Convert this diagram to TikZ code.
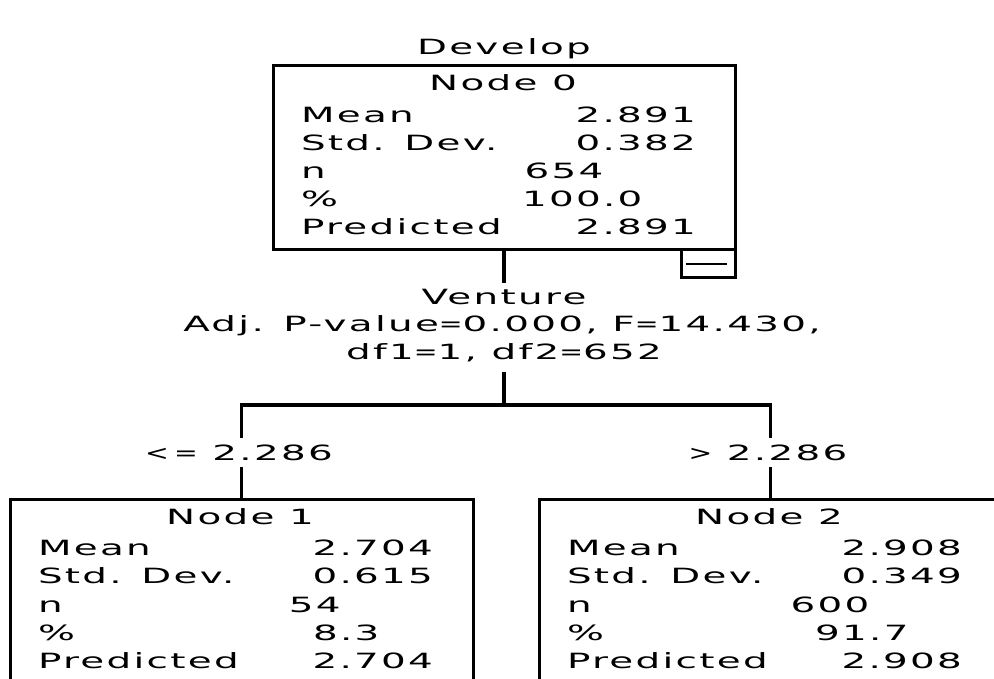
\documentclass[tikz,border=0pt]{standalone}
\usepackage{fontspec}
\newfontfamily\spssfont{DejaVu Sans}[FakeStretch=1.85,LetterSpace=11]
\newfontfamily\spsssym{DejaVu Sans}[FakeStretch=1.35,LetterSpace=25]
\newcommand\seq{{\spsssym=}}
\newcommand\slt{{\spsssym<}}
\newcommand\sgt{{\spsssym>}}
\begin{document}
\begin{tikzpicture}[x=1pt,y=-1pt,
  txt/.style={font=\spssfont\fontsize{21}{27.5}\selectfont, inner sep=0pt, outer sep=0pt},
  treebox/.style={draw, line width=3pt, inner sep=0pt, minimum width=#1, minimum height=184},
  conn/.style={line width=3.5pt},
  minus/.style={line width=1.2pt}]
\useasboundingbox (0,0) rectangle (994,679);
\clip (0,0) rectangle (994,679);
\newcommand\nodestats[7]{%
  \begin{scope}[shift={(#1.north west)}]
    \node[txt,anchor=base] (#1-t) at (231.5,26.5) {#2};
    \node[txt,anchor=base west] (#1-l1) at (29.5,58) {Mean};
    \node[txt,anchor=base east] (#1-v1) at (424.5,58) {#3};
    \node[txt,anchor=base west] (#1-l2) at (29.5,86) {Std. Dev.};
    \node[txt,anchor=base east] (#1-v2) at (424.5,86) {#4};
    \node[txt,anchor=base west] (#1-l3) at (29.5,114.5) {n};
    \node[txt,anchor=base east] (#1-v3) at (332,114.5) {#5};
    \node[txt,anchor=base west] (#1-l4) at (29.5,142.5) {\%};
    \node[txt,anchor=base east] (#1-v4) at (371,142.5) {#6};
    \node[txt,anchor=base west] (#1-l5) at (29.5,170.5) {Predicted};
    \node[txt,anchor=base east] (#1-v5) at (424.5,170.5) {#7};
  \end{scope}}

% title
\node[txt,anchor=base] (title) at (504,54.5) {Develop};

% root node
\node[treebox=462] (n0) at (504,158) {};
\node[draw, line width=3pt, inner sep=0pt, minimum width=54, minimum height=28] (toggle) at (708,264) {};
\draw[minus] ([xshift=6pt]toggle.west) -- ([xshift=-10pt]toggle.east);
\nodestats{n0}{Node 0}{2.891}{0.382}{654}{100.0}{2.891}

% split text
\node[txt,anchor=base] (var) at (504,304.5) {Venture};
\node[txt,anchor=base] (stat1) at (502,331.5) {Adj. P-value\seq 0.000, F\seq 14.430,};
\node[txt,anchor=base] (stat2) at (504,359.5) {df1\seq 1, df2\seq 652};
\coordinate (j0) at (504,283);
\coordinate (j1) at (504,372);
\coordinate (bus) at (504,405);
\draw[conn] (n0.south) -- (j0);
\draw[conn] (j1) -- (bus);

% children
\node[treebox=463, minimum height=221] (n1) at (241.5,609.5) {};
\node[treebox=463, minimum height=221] (n2) at (770.5,609.5) {};
\nodestats{n1}{Node 1}{2.704}{0.615}{54}{8.3}{2.704}
\nodestats{n2}{Node 2}{2.908}{0.349}{600}{91.7}{2.908}

% branch labels
\node[txt,anchor=base] (c1) at (239,460.5) {\slt\seq\ 2.286};
\node[txt,anchor=base] (c2) at (768,460.5) {\sgt\ 2.286};
\coordinate (b1a) at (241.5,438);
\coordinate (b1b) at (241.5,467);
\coordinate (b2a) at (770.5,438);
\coordinate (b2b) at (770.5,467);
\draw[conn] (b1a) -- (b1a |- bus) -- (b2a |- bus) -- (b2a);
\draw[conn] (b1b) -- (n1.north);
\draw[conn] (b2b) -- (n2.north);
\end{tikzpicture}
\end{document}
